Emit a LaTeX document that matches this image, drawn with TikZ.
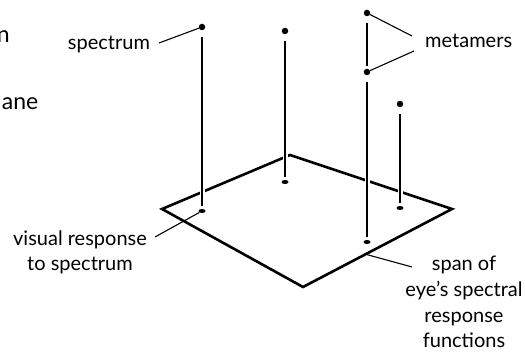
\documentclass[tikz,border=0pt]{standalone}
\usepackage{fontspec}
\setmainfont{Lato}
\usetikzlibrary{calc,positioning,shapes.geometric}

\tikzset{
  dot/.style={circle,fill,inner sep=0pt,minimum size=6.5pt},
  flatdot/.style={ellipse,fill,inner sep=0pt,minimum width=7pt,minimum height=4pt},
  stem/.style={line width=1.1pt,shorten <=7pt,shorten >=3pt,
    preaction={draw=white,line width=5pt,shorten <=7pt,shorten >=3pt}},
  lead/.style={line width=1.1pt},
  lbl/.style={inner sep=0pt,align=center}
}

\begin{document}
\begin{tikzpicture}[x=1pt,y=-1pt,font=\fontsize{20}{25.8}\selectfont]
  \useasboundingbox (0,0) rectangle (525,352);
  % the plane
  \coordinate (L) at (162,209);
  \coordinate (T) at (290,155);
  \coordinate (R) at (452,209);
  \coordinate (B) at (303,287);
  \draw[line width=2.6pt,line join=miter] (L) -- (T) -- (R) -- (B) -- cycle;

  % spectra above and their responses on the plane
  \node[dot] (s1) at (202,27) {};
  \node[dot] (s2) at (285,31) {};
  \node[dot] (s3a) at (367,13) {};
  \node[dot] (s3b) at (367,72) {};
  \node[dot] (s4) at (400,104) {};
  \node[flatdot] (p1) at (202,211) {};
  \node[flatdot] (p2) at (285,182) {};
  \node[flatdot] (p3) at (367,242) {};
  \node[flatdot] (p4) at (400,208) {};
  \draw[stem] (s1) -- (p1);
  \draw[stem] (s2) -- (p2);
  \draw[stem] (s3a) -- (s3b);
  \draw[stem] (s3b) -- (p3);
  \draw[stem] (s4) -- (p4);

  % labels (base = last line)
  \node[lbl,anchor=base] (spec) at (109,50) {spectrum};
  \node[lbl,anchor=base west] (meta) at (425,48) {metamers};
  \node[lbl,anchor=base] (resp) at (80,271) {visual response\\to spectrum};
  \node[lbl,anchor=base] (span) at (464,348) {span of\\eye’s spectral\\response\\functions};
  \node[inner sep=0pt,anchor=base east,font=\fontsize{23}{28}\selectfont] (cutA) at (10,43) {n};
  \node[inner sep=0pt,anchor=base east,font=\fontsize{23}{28}\selectfont] (cutB) at (38.5,110) {ane};

  \coordinate (specend) at (159,43);
  \coordinate (metaA) at (412,36);
  \coordinate (metaB) at (414,51);
  \coordinate (respend) at (155,237);
  \coordinate (spanend) at (412,267);
  \coordinate (edge) at ($(B)!0.42!(R)$);
  \draw[lead] (specend) -- (s1);
  \draw[lead] (metaA) -- (s3a);
  \draw[lead] (metaB) -- (s3b);
  \draw[lead] (respend) -- (p1);
  \draw[lead] (spanend) -- (edge);
\end{tikzpicture}
\end{document}
